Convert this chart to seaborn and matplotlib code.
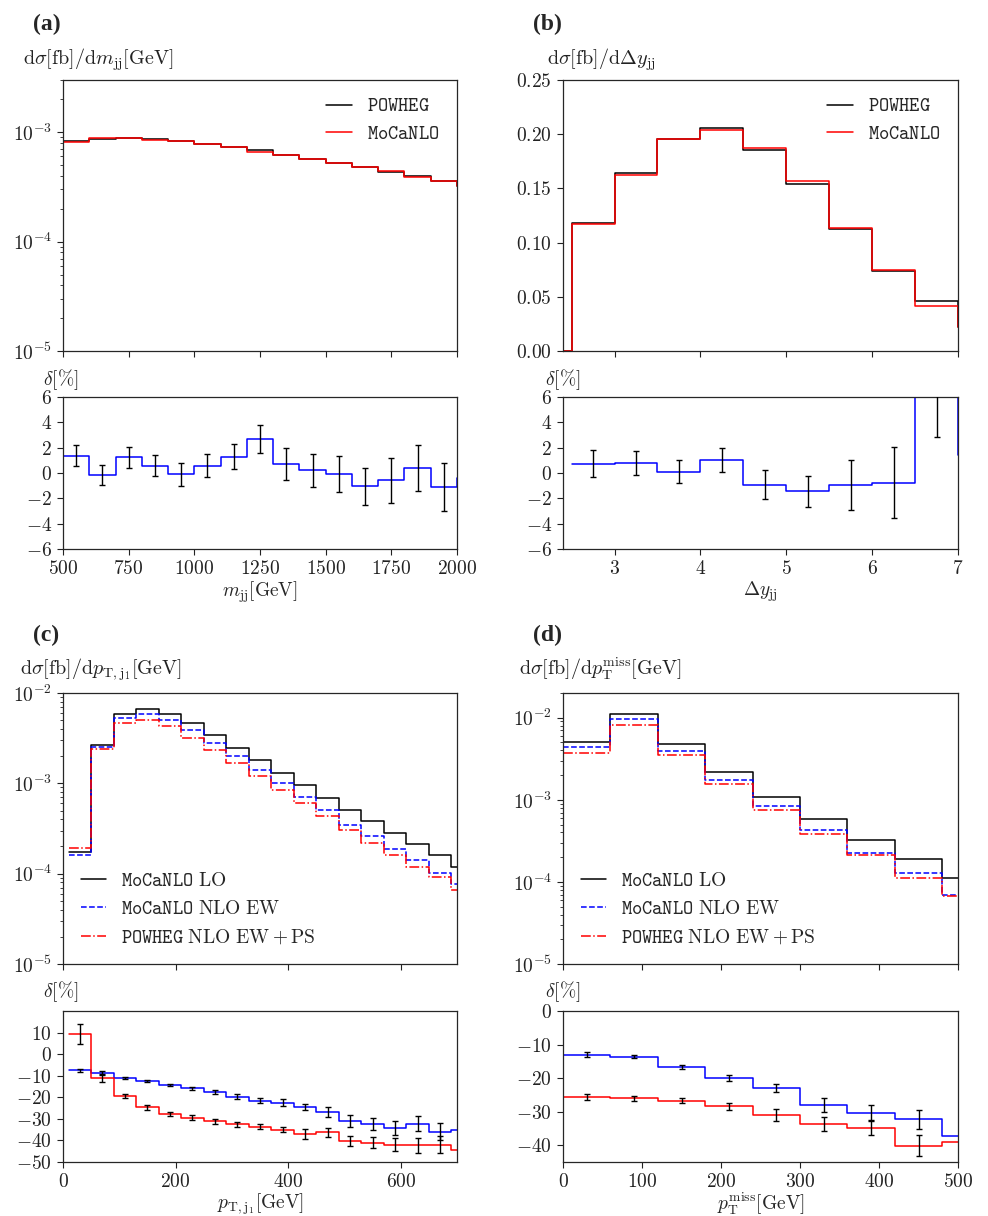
import numpy as np
import matplotlib
matplotlib.use("Agg")
import matplotlib.pyplot as plt
import seaborn as sns

# ---------------- data ----------------
# (a) m_jj, bins of 100 GeV (first bin 400-500 empty, last one beyond the axis)
mjj_edges = np.arange(400, 2101, 100)
mjj_powheg = [0, 8.26e-4, 8.75e-4, 8.93e-4, 8.62e-4, 8.26e-4, 7.87e-4, 7.39e-4, 6.84e-4,
              6.23e-4, 5.69e-4, 5.20e-4, 4.78e-4, 4.36e-4, 3.95e-4, 3.55e-4, 3.20e-4]
mjj_mocanlo = [0, 8.15e-4, 8.76e-4, 8.82e-4, 8.57e-4, 8.27e-4, 7.82e-4, 7.30e-4, 6.66e-4,
               6.19e-4, 5.68e-4, 5.20e-4, 4.83e-4, 4.39e-4, 3.93e-4, 3.59e-4, 3.21e-4]
mjj_d_edges = np.arange(500, 2101, 100)
mjj_delta = [1.36, -0.15, 1.23, 0.57, -0.09, 0.59, 1.28, 2.70, 0.70, 0.20, -0.07, -1.04,
             -0.59, 0.41, -1.12, -0.40]
mjj_err = [0.82, 0.79, 0.82, 0.84, 0.90, 0.91, 1.00, 1.11, 1.24, 1.29, 1.40, 1.46, 1.77,
           1.82, 1.90]

# (b) Delta y_jj, bins of 0.5
dy_edges = np.arange(2.0, 7.51, 0.5)
dy_powheg = [0, 0.1182, 0.1641, 0.1958, 0.2057, 0.1857, 0.1542, 0.1127, 0.0742, 0.0459, 0.0220]
dy_mocanlo = [0, 0.1174, 0.1628, 0.1956, 0.2036, 0.1874, 0.1564, 0.1138, 0.0748, 0.0419, 0.0217]
dy_d_edges = np.arange(2.5, 7.51, 0.5)
dy_delta = [0.73, 0.80, 0.09, 1.04, -0.91, -1.44, -0.96, -0.75, 9.5, 1.4]
dy_err = [1.07, 0.92, 0.90, 0.95, 1.11, 1.23, 1.95, 2.84, 6.64]

# (c) p_T,j1, bins of 40 GeV from 10 GeV
ptj_edges = np.arange(10, 731, 40)
ptj_lo = [1.74e-4, 2.69e-3, 5.80e-3, 6.70e-3, 5.85e-3, 4.60e-3, 3.41e-3, 2.49e-3, 1.80e-3,
          1.30e-3, 9.50e-4, 6.88e-4, 5.10e-4, 3.78e-4, 2.81e-4, 2.12e-4, 1.60e-4, 1.20e-4]
ptj_nlo = [1.61e-4, 2.51e-3, 5.23e-3, 5.85e-3, 5.06e-3, 3.88e-3, 2.81e-3, 2.01e-3, 1.41e-3,
           1.01e-3, 7.10e-4, 5.06e-4, 3.50e-4, 2.58e-4, 1.86e-4, 1.43e-4, 1.02e-4, 7.70e-5]
ptj_ps = [1.91e-4, 2.39e-3, 4.64e-3, 5.06e-3, 4.30e-3, 3.21e-3, 2.33e-3, 1.68e-3, 1.20e-3,
          8.40e-4, 6.00e-4, 4.38e-4, 3.05e-4, 2.21e-4, 1.61e-4, 1.20e-4, 9.20e-5, 6.60e-5]
ptj_d_nlo = [-7.5, -8.7, -11.0, -12.4, -14.3, -15.8, -17.6, -19.8, -21.6, -22.5, -24.7,
             -26.7, -30.8, -32.2, -34.2, -32.2, -35.9, -35.1]
ptj_d_ps = [9.4, -11.2, -19.5, -24.7, -27.6, -29.4, -31.1, -32.5, -33.7, -35.0, -37.0,
            -36.3, -40.3, -41.1, -42.0, -42.3, -42.0, -44.6]
ptj_err_nlo = [0.8, 0.8, 0.6, 0.5, 0.6, 0.7, 1.0, 1.1, 1.2, 1.5, 1.4, 2.3, 2.8, 2.8, 3.3,
               3.5, 4.1]
ptj_err_ps = [4.6, 1.8, 0.8, 1.0, 1.0, 1.0, 1.1, 1.15, 1.2, 1.3, 2.3, 2.1, 2.5, 2.6, 3.0,
              3.6, 4.0]

# (d) p_T^miss, bins of 60 GeV
ptm_edges = np.arange(0, 541, 60)
ptm_lo = [5.05e-3, 1.12e-2, 4.77e-3, 2.17e-3, 1.09e-3, 5.80e-4, 3.24e-4, 1.88e-4, 1.11e-4]
ptm_nlo = [4.39e-3, 9.72e-3, 3.95e-3, 1.73e-3, 8.34e-4, 4.25e-4, 2.25e-4, 1.27e-4, 6.97e-5]
ptm_ps = [3.71e-3, 8.22e-3, 3.50e-3, 1.55e-3, 7.53e-4, 3.87e-4, 2.10e-4, 1.11e-4, 6.78e-5]
ptm_d_nlo = [-13.0, -13.6, -16.8, -20.0, -23.0, -28.1, -30.5, -32.3, -37.2]
ptm_d_ps = [-25.6, -26.0, -26.7, -28.4, -31.1, -33.7, -34.8, -40.2, -39.0]
ptm_err_nlo = [0.64, 0.35, 0.6, 0.9, 1.1, 2.1, 2.4, 2.9]
ptm_err_ps = [0.85, 0.75, 0.85, 1.1, 1.8, 2.1, 2.3, 3.1]

lab_pow = r"$\mathtt{POWHEG}$"
lab_moc = r"$\mathtt{MoCaNLO}$"
lab_lo = r"$\mathtt{MoCaNLO}\ \mathrm{LO}$"
lab_nlo = r"$\mathtt{MoCaNLO}\ \mathrm{NLO\ EW}$"
lab_ps = r"$\mathtt{POWHEG}\ \mathrm{NLO\ EW} + \mathrm{PS}$"

# ---------------- style ----------------
sns.set_style("ticks")
plt.rcParams.update({
    "font.family": "serif",
    "font.serif": ["cmr10"],
    "mathtext.fontset": "cm",
    "axes.formatter.use_mathtext": True,
    "font.size": 14,
    "axes.linewidth": 0.9,
    "xtick.direction": "out",
    "ytick.direction": "out",
    "xtick.major.size": 4.5,
    "ytick.major.size": 4.5,
    "xtick.color": "#222222",
    "ytick.color": "#222222",
})


def steps(ax, edges, vals, color, ls="-", label=None):
    x = np.asarray(edges, dtype=float)
    y = np.append(np.asarray(vals, dtype=float), vals[-1])
    sns.lineplot(x=x, y=y, drawstyle="steps-post", color=color, linestyle=ls,
                 linewidth=1.1, ax=ax, label=label, estimator=None, sort=False)


def ebars(ax, edges, vals, errs):
    e = np.asarray(edges, dtype=float)
    centres = 0.5 * (e[:-1] + e[1:])[:len(errs)]
    ax.errorbar(centres, vals[:len(errs)], yerr=errs, fmt="none", ecolor="black",
                elinewidth=1.0, capsize=2.5, capthick=1.0, zorder=4)


W, H = 988, 1216
fig = plt.figure(figsize=(W / 100, H / 100), dpi=100)


def box(l, t, r, b):
    return fig.add_axes([l / W, 1 - b / H, (r - l) / W, (b - t) / H])


ax_a = box(63, 80, 457, 351)
ax_ad = box(63, 397, 457, 549)
ax_b = box(563, 80, 958, 351)
ax_bd = box(563, 397, 958, 549)
ax_c = box(63, 693, 457, 964)
ax_cd = box(63, 1011, 457, 1162)
ax_d = box(563, 693, 958, 964)
ax_dd = box(563, 1011, 958, 1162)

# (a)
steps(ax_a, mjj_edges, mjj_powheg, "black", label=lab_pow)
steps(ax_a, mjj_edges, mjj_mocanlo, "red", label=lab_moc)
ax_a.set_yscale("log")
ax_a.set_xlim(500, 2000)
ax_a.set_ylim(1e-5, 3e-3)
ax_a.legend(loc="upper right", frameon=False, fontsize=14, handlelength=1.3)
steps(ax_ad, mjj_d_edges, mjj_delta, "blue")
ebars(ax_ad, mjj_d_edges, mjj_delta, mjj_err)
ax_ad.set_xlim(500, 2000)
ax_ad.set_ylim(-6, 6)
ax_ad.set_yticks(np.arange(-6, 7, 2))
ax_ad.set_xticks(np.arange(500, 2001, 250))
ax_a.set_xticks(np.arange(500, 2001, 250))
ax_ad.set_xlabel(r"$m_{\mathrm{jj}}[\mathrm{GeV}]$", labelpad=1)

# (b)
steps(ax_b, dy_edges, dy_powheg, "black", label=lab_pow)
steps(ax_b, dy_edges, dy_mocanlo, "red", label=lab_moc)
ax_b.set_xlim(2.4, 7)
ax_b.set_ylim(0, 0.25)
ax_b.set_yticks(np.arange(0, 0.26, 0.05))
ax_b.legend(loc="upper right", frameon=False, fontsize=14, handlelength=1.3)
steps(ax_bd, dy_d_edges, dy_delta, "blue")
ebars(ax_bd, dy_d_edges, dy_delta, dy_err)
ax_bd.set_xlim(2.4, 7)
ax_bd.set_ylim(-6, 6)
ax_bd.set_yticks(np.arange(-6, 7, 2))
ax_bd.set_xticks([3, 4, 5, 6, 7])
ax_b.set_xticks([3, 4, 5, 6, 7])
ax_bd.set_xlabel(r"$\Delta y_{\mathrm{jj}}$", labelpad=1)

# (c)
steps(ax_c, ptj_edges, ptj_lo, "black", label=lab_lo)
steps(ax_c, ptj_edges, ptj_nlo, "blue", "--", label=lab_nlo)
steps(ax_c, ptj_edges, ptj_ps, "red", "-.", label=lab_ps)
ax_c.set_yscale("log")
ax_c.set_xlim(0, 700)
ax_c.set_ylim(1e-5, 1e-2)
ax_c.legend(loc="lower left", frameon=False, fontsize=14, handlelength=1.3)
steps(ax_cd, ptj_edges, ptj_d_nlo, "blue")
steps(ax_cd, ptj_edges, ptj_d_ps, "red")
ebars(ax_cd, ptj_edges, ptj_d_nlo, ptj_err_nlo)
ebars(ax_cd, ptj_edges, ptj_d_ps, ptj_err_ps)
ax_cd.set_xlim(0, 700)
ax_cd.set_ylim(-50, 20)
ax_cd.set_yticks(np.arange(-50, 11, 10))
ax_cd.set_xticks([0, 200, 400, 600])
ax_c.set_xticks([0, 200, 400, 600])
ax_cd.set_xlabel(r"$p_{\mathrm{T},\mathrm{j}_1}[\mathrm{GeV}]$", labelpad=0)

# (d)
steps(ax_d, ptm_edges, ptm_lo, "black", label=lab_lo)
steps(ax_d, ptm_edges, ptm_nlo, "blue", "--", label=lab_nlo)
steps(ax_d, ptm_edges, ptm_ps, "red", "-.", label=lab_ps)
ax_d.set_yscale("log")
ax_d.set_xlim(0, 500)
ax_d.set_ylim(1e-5, 2e-2)
ax_d.legend(loc="lower left", frameon=False, fontsize=14, handlelength=1.3)
steps(ax_dd, ptm_edges, ptm_d_nlo, "blue")
steps(ax_dd, ptm_edges, ptm_d_ps, "red")
ebars(ax_dd, ptm_edges, ptm_d_nlo, ptm_err_nlo)
ebars(ax_dd, ptm_edges, ptm_d_ps, ptm_err_ps)
ax_dd.set_xlim(0, 500)
ax_dd.set_ylim(-45, 0)
ax_dd.set_yticks(np.arange(-40, 1, 10))
ax_dd.set_xticks(np.arange(0, 501, 100))
ax_d.set_xticks(np.arange(0, 501, 100))
ax_dd.set_xlabel(r"$p_{\mathrm{T}}^{\mathrm{miss}}[\mathrm{GeV}]$", labelpad=0)

for ax in (ax_a, ax_b, ax_c, ax_d):
    ax.tick_params(labelbottom=False)
for ax in fig.axes:
    ax.tick_params(top=False, right=False)
    ax.set_ylabel("")

# y titles and panel letters
ytitles = [
    (23, 65, r"$\mathrm{d}\sigma[\mathrm{fb}]/\mathrm{d}m_{\mathrm{jj}}[\mathrm{GeV}]$"),
    (547, 65, r"$\mathrm{d}\sigma[\mathrm{fb}]/\mathrm{d}\Delta y_{\mathrm{jj}}$"),
    (20, 675, r"$\mathrm{d}\sigma[\mathrm{fb}]/\mathrm{d}p_{\mathrm{T},\mathrm{j}_1}[\mathrm{GeV}]$"),
    (519, 675, r"$\mathrm{d}\sigma[\mathrm{fb}]/\mathrm{d}p_{\mathrm{T}}^{\mathrm{miss}}[\mathrm{GeV}]$"),
]
for x, y, s in ytitles:
    fig.text(x / W, 1 - y / H, s, fontsize=14.5, ha="left", va="baseline", color="#222222")

for x, y in [(43, 385), (545, 385), (43, 997), (545, 997)]:
    fig.text(x / W, 1 - y / H, r"$\delta[\%]$", fontsize=14, ha="left", va="baseline",
             color="#222222")

for x, y, s in [(33, 30, "(a)"), (533, 30, "(b)"), (33, 641, "(c)"), (533, 641, "(d)")]:
    fig.text(x / W, 1 - y / H, s, fontsize=17, fontweight="bold",
             family="Liberation Serif", ha="left", va="baseline")

fig.savefig("out.png", dpi=100)
